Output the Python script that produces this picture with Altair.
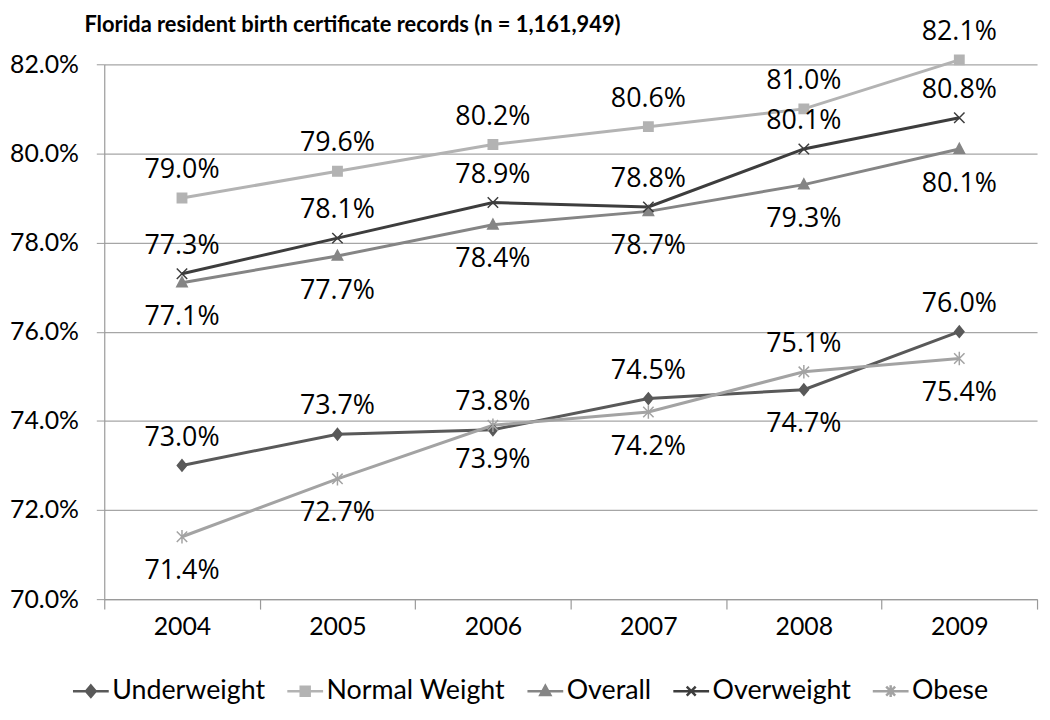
import altair as alt
import pandas as pd

years = ["2004", "2005", "2006", "2007", "2008", "2009"]
series = ["Underweight", "Normal Weight", "Overall", "Overweight", "Obese"]
underweight = [73.0, 73.7, 73.8, 74.5, 74.7, 76.0]
normal_weight = [79.0, 79.6, 80.2, 80.6, 81.0, 82.1]
overall = [77.1, 77.7, 78.4, 78.7, 79.3, 80.1]
overweight = [77.3, 78.1, 78.9, 78.8, 80.1, 80.8]
obese = [71.4, 72.7, 73.9, 74.2, 75.1, 75.4]
y_ticks = [70, 72, 74, 76, 78, 80, 82]

# where each data label sits relative to its point
label_side = {
    "Underweight": ["above", "above", "above", "above", "below", "above"],
    "Normal Weight": ["above", "above", "above", "above", "above", "above"],
    "Overall": ["below", "below", "below", "below", "below", "below"],
    "Overweight": ["above", "above", "above", "above", "above", "above"],
    "Obese": ["below", "below", "below", "below", "above", "below"],
}

values = {
    "Underweight": underweight,
    "Normal Weight": normal_weight,
    "Overall": overall,
    "Overweight": overweight,
    "Obese": obese,
}

rows = []
for s in series:
    for i, yr in enumerate(years):
        rows.append({"year": yr, "series": s, "value": values[s][i],
                     "side": label_side[s][i]})
df = pd.DataFrame(rows)

colors = ["#595959", "#b3b3b3", "#858585", "#3d3d3d", "#a3a3a3"]

marker_paths = [
    "M0,-1.1L0.9,0L0,1.1L-0.9,0Z",
    "M-0.9,-0.9H0.9V0.9H-0.9Z",
    "M0,-1.1L1,0.8L-1,0.8Z",
    "M-1,-1L1,1M1,-1L-1,1",
    "M-1,-1L1,1M1,-1L-1,1M0,-1.3L0,1.3",
]
legend_paths = [
    "M-1,0H1M0,-0.32L0.27,0L0,0.32L-0.27,0Z",
    "M-1,0H1M-0.25,-0.25H0.25V0.25H-0.25Z",
    "M-1,0H1M0,-0.3L0.28,0.22L-0.28,0.22Z",
    "M-1,0H1M-0.25,-0.25L0.25,0.25M0.25,-0.25L-0.25,0.25",
    "M-1,0H1M-0.25,-0.25L0.25,0.25M0.25,-0.25L-0.25,0.25M0,-0.33L0,0.33",
]


def col_scale():
    return alt.Scale(domain=series, range=colors)


x_enc = alt.X(
    "year:O",
    scale=alt.Scale(type="band", domain=years, paddingInner=0, paddingOuter=0),
    axis=alt.Axis(title=None, labelAngle=0, tickBand="extent", tickSize=10,
                  grid=False, domainColor="#9a9a9a", tickColor="#9a9a9a",
                  labelFont="Lato", labelFontSize=25, labelColor="black",
                  labelPadding=6, domainWidth=1.2, tickWidth=1.2),
)
y_enc = alt.Y(
    "value:Q",
    scale=alt.Scale(domain=[70, 82], zero=False, nice=False),
    axis=alt.Axis(title=None, values=y_ticks, labelExpr="format(datum.value, '.1f') + '%'",
                  tickSize=8, gridColor="#a6a6a6", gridWidth=1.2,
                  domainColor="#9a9a9a", tickColor="#9a9a9a", domainWidth=1.2,
                  labelFont="Lato", labelFontSize=25, labelColor="black",
                  labelPadding=18),
)

base = alt.Chart(df).encode(x=x_enc, y=y_enc)

lines = base.mark_line(strokeWidth=3).encode(
    stroke=alt.Stroke("series:N", scale=col_scale(), legend=None),
)

points = base.mark_point(filled=True, opacity=1, strokeWidth=1.5, size=110).encode(
    fill=alt.Fill("series:N", scale=col_scale(), legend=None),
    stroke=alt.Stroke("series:N", scale=col_scale(), legend=None),
    shape=alt.Shape("series:N", scale=alt.Scale(domain=series, range=marker_paths), legend=None),
)

leg = alt.Legend(title=None, orient="none", legendX=-33, legendY=612,
                 direction="horizontal", symbolSize=1300, symbolStrokeWidth=2.5,
                 labelFont="Lato", labelFontSize=27, labelColor="black",
                 labelOffset=2, columnPadding=16, labelLimit=400)

legend_layer = base.transform_filter("false").mark_point(
    filled=True, opacity=1, strokeWidth=2.5).encode(
    fill=alt.Fill("series:N", scale=col_scale(), legend=leg),
    stroke=alt.Stroke("series:N", scale=col_scale(), legend=leg),
    shape=alt.Shape("series:N", scale=alt.Scale(domain=series, range=legend_paths), legend=leg),
)

label_text = base.transform_calculate(
    label="format(datum.value, '.1f') + '%'"
)
above = label_text.transform_filter(alt.datum.side == "above").mark_text(
    dy=-28, font="Open Sans", fontSize=27, color="black").encode(text="label:N")
below = label_text.transform_filter(alt.datum.side == "below").mark_text(
    dy=35, font="Open Sans", fontSize=27, color="black").encode(text="label:N")

chart = alt.layer(lines, points, legend_layer, above, below).resolve_scale(
    shape="independent", fill="independent", stroke="independent"
).properties(
    width=940,
    height=539,
    title=alt.TitleParams(
        "Florida resident birth certificate records (n = 1,161,949)",
        anchor="start", frame="group", dx=-20, fontSize=22, font="Lato",
        fontWeight="bold", color="black", offset=-19,
    ),
    padding={"left": 97, "top": 54, "right": 5, "bottom": 112},
    autosize=alt.AutoSizeParams(type="none"),
).configure_view(stroke=None)

chart.save("out.html", embed_options={"renderer": "svg", "actions": False})
